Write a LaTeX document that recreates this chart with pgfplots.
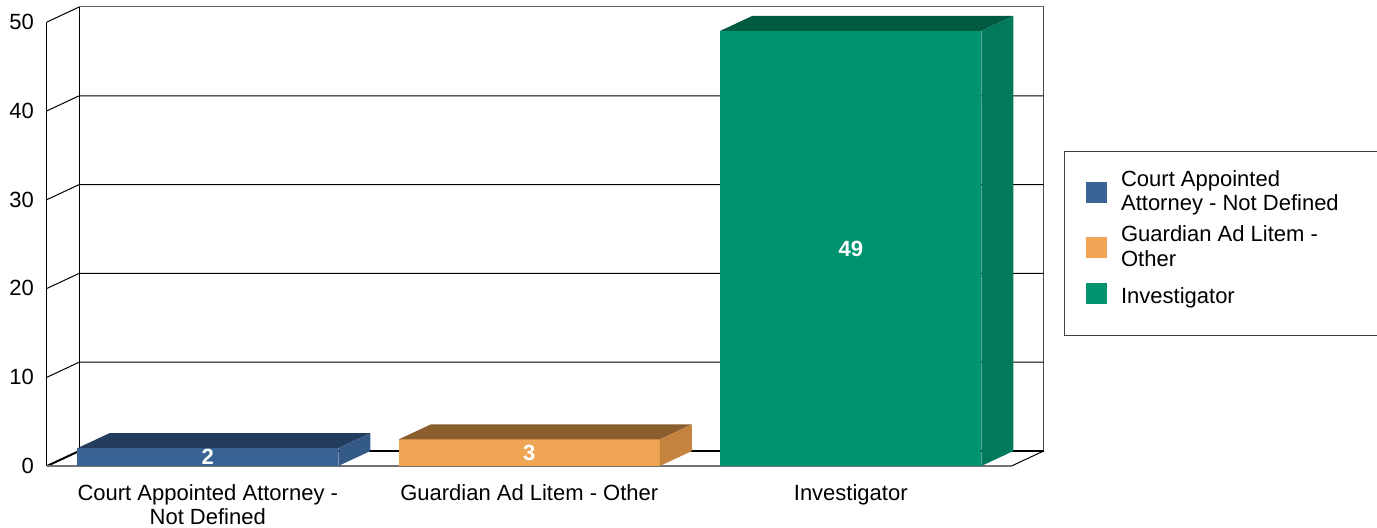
\documentclass[border=0pt]{standalone}
\usepackage{pgfplots}
\pgfplotsset{compat=1.18}
\usetikzlibrary{calc}
\usepackage{fontspec}
\setmainfont{Liberation Sans}
\definecolor{bfront}{RGB}{58,100,150}
\definecolor{btop}{RGB}{36,61,95}
\definecolor{bside}{RGB}{52,90,136}
\definecolor{ofront}{RGB}{240,165,85}
\definecolor{otop}{RGB}{139,94,46}
\definecolor{oside}{RGB}{196,131,62}
\definecolor{gfront}{RGB}{0,147,112}
\definecolor{gtop}{RGB}{0,90,66}
\definecolor{gside}{RGB}{0,122,90}
\begin{document}
\begin{tikzpicture}
\begin{axis}[
  x=160.75pt, y=4.44pt,
  xmin=-0.5, xmax=2.6, ymin=0, ymax=51.69,
  clip=false,
  axis line style={draw=none},
  major tick length=0pt,
  ytick={0,10,20,30,40,50},
  xtick={0,1,2},
  xticklabels={{Court Appointed Attorney -\\Not Defined},{Guardian Ad Litem - Other},{Investigator}},
  xticklabel style={align=center, font=\fontsize{11}{12}\selectfont, yshift=-5.5pt},
  yticklabel style={font=\fontsize{11}{12}\selectfont, xshift=-3pt},
  /pgf/number format/assume math mode=true,
  legend style={at={(1.020,0.6864)}, anchor=north west, draw=black!75, line width=0.5pt, fill=white,
    font=\fontsize{11}{12.25}\selectfont, cells={align=left, anchor=west}, inner xsep=11pt, inner ysep=7.5pt, row sep=2pt},
  legend cell align=left,
  legend image code/.code={\fill[#1] (0pt,-5.25pt) rectangle (10.5pt,5.25pt); \path (15.5pt,0pt);},
]
\coordinate (O) at (axis cs:-0.5,0);
% back wall and left wall grid
\draw[black, line width=0.5pt] (axis cs:-0.4,1.69) -- (axis cs:-0.4,51.69);
\draw[black!70, line width=0.5pt] (axis cs:2.6,1.69) -- (axis cs:2.6,51.69);
\draw[black, line width=0.5pt] (axis cs:-0.5,10) -- (axis cs:-0.4,11.69) -- (axis cs:2.6,11.69);
\draw[black, line width=0.5pt] (axis cs:-0.5,20) -- (axis cs:-0.4,21.69) -- (axis cs:2.6,21.69);
\draw[black, line width=0.5pt] (axis cs:-0.5,30) -- (axis cs:-0.4,31.69) -- (axis cs:2.6,31.69);
\draw[black, line width=0.5pt] (axis cs:-0.5,40) -- (axis cs:-0.4,41.69) -- (axis cs:2.6,41.69);
\draw[black, line width=0.5pt] (axis cs:-0.5,50) -- (axis cs:-0.4,51.69);
\draw[black!60, line width=0.5pt] (axis cs:-0.4,51.69) -- (axis cs:2.6,51.69);
\draw[black, line width=0.5pt] (axis cs:-0.5,0) -- (axis cs:-0.5,50);
% floor
\draw[black, line width=1pt] (axis cs:-0.4,1.69) -- (axis cs:2.6,1.69);
\draw[black, line width=1pt] (axis cs:-0.5,0) -- (axis cs:-0.4,1.69);
\draw[black, line width=0.5pt] (axis cs:2.5,0) -- (axis cs:2.6,1.69);
\draw[black!55, line width=1pt] (axis cs:-0.5,0) -- (axis cs:2.5,0);
% front faces
\addplot[ybar, bar width=0.812, bar shift=0pt, fill=bfront, draw=none] coordinates {(0,2)};
\addlegendentry{Court Appointed\\Attorney - Not Defined\hspace*{9.5pt}}
\addplot[ybar, bar width=0.812, bar shift=0pt, fill=ofront, draw=none] coordinates {(1,3)};
\addlegendentry{Guardian Ad Litem -\\Other}
\addplot[ybar, bar width=0.812, bar shift=0pt, fill=gfront, draw=none,
  legend image code/.code={\fill[gfront] (0pt,-5.25pt) rectangle (10.5pt,5.25pt); \path (15.5pt,0pt); \path (0pt,-13.5pt);}] coordinates {(2,49)};
\addlegendentry{\rule[-6.8pt]{0pt}{17.8pt}Investigator}
% top faces
\addplot[fill=btop, draw=none, forget plot] coordinates {(-0.406,2) (0.406,2) (0.506,3.69) (-0.306,3.69)} -- cycle;
\addplot[fill=otop, draw=none, forget plot] coordinates {(0.594,3) (1.406,3) (1.506,4.69) (0.694,4.69)} -- cycle;
\addplot[fill=gtop, draw=none, forget plot] coordinates {(1.594,49) (2.406,49) (2.506,50.69) (1.694,50.69)} -- cycle;
% side faces
\addplot[fill=bside, draw=none, forget plot] coordinates {(0.406,0) (0.506,1.69) (0.506,3.69) (0.406,2)} -- cycle;
\addplot[fill=oside, draw=none, forget plot] coordinates {(1.406,0) (1.506,1.69) (1.506,4.69) (1.406,3)} -- cycle;
\addplot[fill=gside, draw=none, forget plot] coordinates {(2.406,0) (2.506,1.69) (2.506,50.69) (2.406,49)} -- cycle;
% value labels
\addplot[draw=none, mark=none, forget plot, nodes near coords, point meta=explicit symbolic,
  nodes near coords style={white, font=\fontsize{11}{12}\selectfont\bfseries, anchor=center}]
  coordinates {(0,1)[2] (1,1.5)[3] (2,24.5)[49]};
\end{axis}
\pgfresetboundingbox
\path[use as bounding box] ($(O)+(-23.5pt,-30.5pt)$) rectangle ++(688.5pt,263.5pt);
\end{tikzpicture}
\end{document}
